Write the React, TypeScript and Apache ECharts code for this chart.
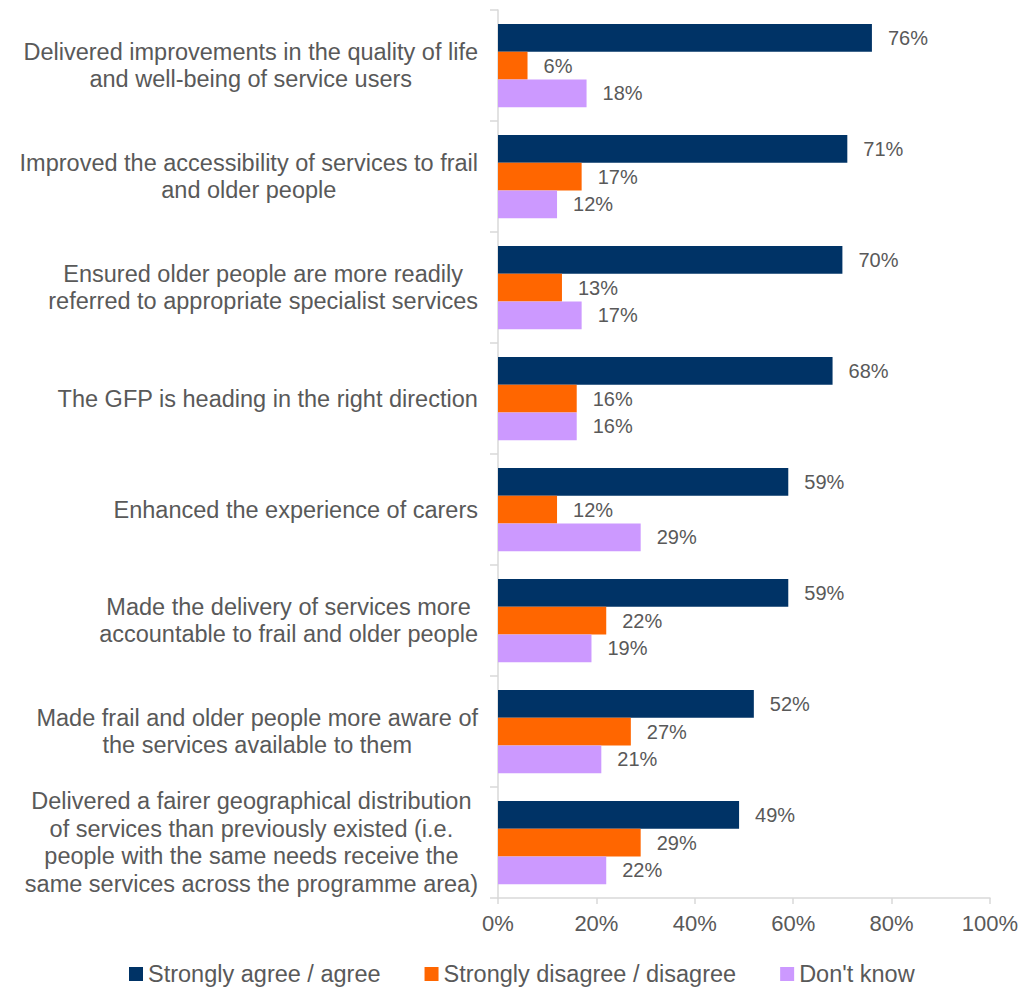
import React, { useEffect, useRef } from "react";
import * as echarts from "echarts";

const categories = [
  "Delivered improvements in the quality of life\nand well-being of service users",
  "Improved the accessibility of services to frail\nand older people",
  "Ensured older people are more readily\nreferred to appropriate specialist services",
  "The GFP is heading in the right direction",
  "Enhanced the experience of carers",
  "Made the delivery of services more\naccountable to frail and older people",
  "Made frail and older people more aware of\nthe services available to them",
  "Delivered a fairer geographical distribution\nof services than previously existed (i.e.\npeople with the same needs receive the\nsame services across the programme area)",
];

const agree = [76, 71, 70, 68, 59, 59, 52, 49];
const disagree = [6, 17, 13, 16, 12, 22, 27, 29];
const dontKnow = [18, 12, 17, 16, 29, 19, 21, 22];

const seriesNames = ["Strongly agree / agree", "Strongly disagree / disagree", "Don't know"];
const seriesColors = ["#003366", "#ff6600", "#cc99ff"];

const FONT = "'Liberation Sans', Arial, sans-serif";
const TEXT = "#595959";
const AXIS = "#d9d9d9";

export default function App() {
  const ref = useRef<HTMLDivElement>(null);

  useEffect(() => {
    if (!ref.current) return;
    const chart = echarts.init(ref.current, undefined, { renderer: "svg" });
    const values = [agree, disagree, dontKnow];
    chart.setOption({
      animation: false,
      grid: { left: 498, right: 44, top: 10, bottom: 92, containLabel: false },
      legend: {
        left: 129,
        top: 961,
        padding: 0,
        icon: "rect",
        itemWidth: 14,
        itemHeight: 14,
        itemGap: 44,
        textStyle: { fontSize: 23.5, lineHeight: 26, color: TEXT, fontFamily: FONT },
        data: seriesNames,
      },
      xAxis: {
        type: "value",
        min: 0,
        max: 100,
        interval: 20,
        axisLine: { show: true, lineStyle: { color: AXIS, width: 1.5 } },
        axisTick: { show: true, length: 6, lineStyle: { color: AXIS, width: 1.5 } },
        splitLine: { show: false },
        axisLabel: {
          margin: 14,
          fontSize: 22,
          color: TEXT,
          fontFamily: FONT,
          formatter: "{value}%",
        },
      },
      yAxis: {
        type: "category",
        inverse: true,
        data: categories,
        axisLine: { show: true, lineStyle: { color: AXIS, width: 1.5 } },
        axisTick: { show: true, length: 8, lineStyle: { color: AXIS, width: 1.5 } },
        axisLabel: {
          margin: 20,
          color: TEXT,
          fontFamily: FONT,
          fontSize: 23.5,
          lineHeight: 27.5,
          formatter: (v: string) =>
            v
              .split("\n")
              .map((l) => `{c|${l}}`)
              .join("\n"),
          rich: {
            c: {
              align: "center",
              fontSize: 23.5,
              lineHeight: 27.5,
              color: TEXT,
              fontFamily: FONT,
            },
          },
        },
      },
      series: seriesNames.map((name, i) => ({
        name,
        type: "bar",
        data: values[i],
        barGap: "0%",
        barCategoryGap: "25%",
        itemStyle: { color: seriesColors[i] },
        label: {
          show: true,
          position: "right",
          distance: 16,
          formatter: "{c}%",
          fontSize: 20,
          color: TEXT,
          fontFamily: FONT,
        },
      })),
    });
    return () => chart.dispose();
  }, []);

  return (
    <div
      ref={ref}
      style={{ position: "fixed", left: 0, top: 0, width: 1034, height: 990, background: "#fff" }}
    />
  );
}
